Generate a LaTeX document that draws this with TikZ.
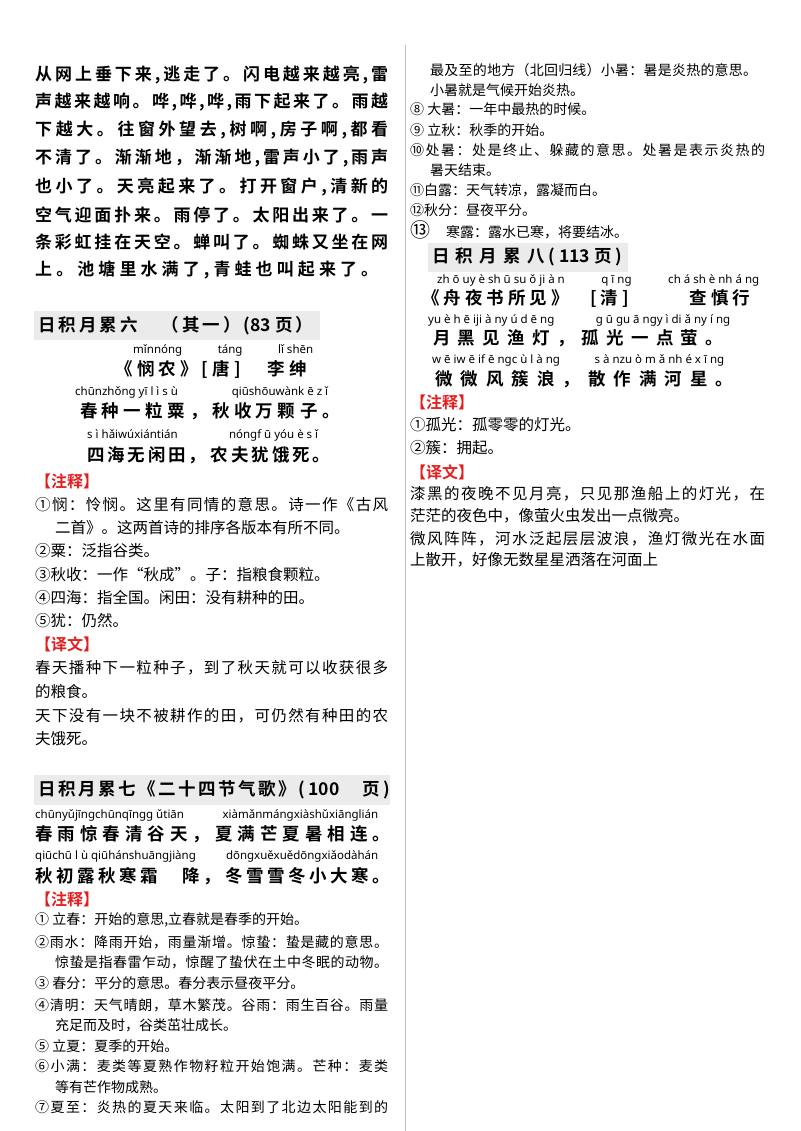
\documentclass[tikz,border=0pt]{standalone}
\usepackage{fontspec}
\setmainfont{Noto Sans CJK SC}[BoldFont={Noto Sans CJK SC Bold}]
\newfontfamily\py{Noto Sans}
\definecolor{redc}{RGB}{228,30,30}
\newcounter{ln}
\newcount\cc
\cc="4E00 \loop \XeTeXcharclass\cc=1 \advance\cc by 1 \ifnum\cc<"A000 \repeat
\cc="3000 \loop \XeTeXcharclass\cc=1 \advance\cc by 1 \ifnum\cc<"3040 \repeat
\cc="FF00 \loop \XeTeXcharclass\cc=1 \advance\cc by 1 \ifnum\cc<"FF60 \repeat
\cc="2460 \loop \XeTeXcharclass\cc=1 \advance\cc by 1 \ifnum\cc<"2480 \repeat
\XeTeXinterchartoks 1 1 = {\hskip0pt plus 1fil\relax}
\XeTeXinterchartoks 0 1 = {\hskip0pt plus 1fil\relax}
\XeTeXinterchartoks 1 0 = {\hskip0pt plus 1fil\relax}
\tikzset{
 body/.style={inner sep=0pt,font=\fontsize{15.5}{18}\selectfont},
 sbody/.style={inner sep=0pt,font=\fontsize{14}{16}\selectfont},
 para/.style={inner sep=0pt,font=\fontsize{17}{20}\selectfont\bfseries},
 poem/.style={inner sep=0pt,font=\fontsize{17.5}{20}\selectfont\bfseries},
 pin/.style={inner sep=0pt,font=\fontsize{11.5}{13}\py},
 head/.style={inner sep=0pt,font=\fontsize{17.5}{20}\selectfont\bfseries},
 lab/.style={inner sep=0pt,text=redc,font=\fontsize{16}{18}\selectfont\bfseries},
 hbox/.style={fill=black!8,draw=none}
}
\newcommand\ml[5]{\stepcounter{ln}\node[#1,anchor=west] (n\arabic{ln}) at (#2,#3) {\XeTeXinterchartokenstate=1 \makebox[#4pt][s]{#5}};}
\newcommand\mn[4]{\stepcounter{ln}\node[#1,anchor=west] (n\arabic{ln}) at (#2,#3) {#4};}
\begin{document}
\begin{tikzpicture}[x=1pt,y=-1pt]
\useasboundingbox (0,0) rectangle (800,1131);
\fill[white] (0,0) rectangle (800,1131);
\draw[black!25] (405,45) -- (405,1131);
% top paragraph
\ml{para}{35}{75}{353}{从网上垂下来,逃走了。闪电越来越亮,雷}
\ml{para}{35}{102}{353}{声越来越响。哗,哗,哗,雨下起来了。雨越}
\ml{para}{35}{130}{353}{下越大。往窗外望去,树啊,房子啊,都看}
\ml{para}{35}{158}{353}{不清了。渐渐地，渐渐地,雷声小了,雨声}
\ml{para}{35}{187}{353}{也小了。天亮起来了。打开窗户,清新的}
\ml{para}{35}{215}{353}{空气迎面扑来。雨停了。太阳出来了。一}
\ml{para}{35}{242}{353}{条彩虹挂在天空。蝉叫了。蜘蛛又坐在网}
\ml{para}{35}{270}{343}{上。池塘里水满了,青蛙也叫起来了。}
% section 6
\fill[hbox] (34,311) rectangle (320,340);
\ml{head}{38}{326}{275}{日积月累六　（其一）(83 页）}
\ml{pin}{133}{350}{180}{mǐnnóng \hfil táng \hfil lǐ shēn}
\ml{poem}{115}{369}{192}{《悯 农 》[唐]　李绅}
\ml{pin}{75}{392}{253}{chūnzhǒng yī l ì s ù \hfil qiūshōuwànk ē z ǐ}
\ml{poem}{80}{411}{260}{春 种 一粒粟，秋 收 万颗子。}
\ml{pin}{87}{435}{231}{s ì hǎiwúxiántián \hfil nóngf ū yóu è s ǐ}
\ml{poem}{87}{455}{243}{四海无闲田， 农 夫犹饿死。}
\mn{lab}{35}{481}{【注释】}
\ml{body}{35}{505}{353}{①悯：怜悯。这里有同情的意思。诗一作《古风}
\mn{body}{55}{528}{二首》。这两首诗的排序各版本有所不同。}
\mn{body}{35}{551}{②粟：泛指谷类。}
\mn{body}{35}{575}{③秋收：一作“秋成”。子：指粮食颗粒。}
\mn{body}{35}{598}{④四海：指全国。闲田：没有耕种的田。}
\mn{body}{35}{621}{⑤犹：仍然。}
\mn{lab}{35}{644}{【译文】}
\ml{body}{35}{668}{353}{春天播种下一粒种子，到了秋天就可以收获很多}
\mn{body}{35}{692}{的粮食。}
\ml{body}{35}{716}{353}{天下没有一块不被耕作的田，可仍然有种田的农}
\mn{body}{35}{739}{夫饿死。}
% section 7
\fill[hbox] (34,775) rectangle (390,805);
\ml{head}{38}{790}{352}{日积月累七《二十四节气歌》( 100　页 )}
\ml{pin}{35}{815}{343}{chūnyǔjīngchūnqīngg ǔtiān \hfil xiàmǎnmángxiàshǔxiānglián}
\ml{poem}{35}{834}{355}{春雨惊春清谷天，夏满芒夏暑相连。}
\ml{pin}{35}{856}{343}{qiūchū l ù qiūhánshuāngjiàng \hfil dōngxuěxuědōngxiǎodàhán}
\ml{poem}{35}{876}{355}{秋初露秋寒霜　降，冬雪雪冬小大寒。}
\mn{lab}{35}{899}{【注释】}
\mn{sbody}{35}{920}{① 立春：开始的意思,立春就是春季的开始。}
\ml{sbody}{35}{942}{353}{②雨水：降雨开始，雨量渐增。惊蛰：蛰是藏的意思。}
\ml{sbody}{55}{962}{333}{惊蛰是指春雷乍动，惊醒了蛰伏在土中冬眠的动物。}
\mn{sbody}{35}{983}{③ 春分：平分的意思。春分表示昼夜平分。}
\ml{sbody}{35}{1005}{353}{④清明：天气晴朗，草木繁茂。谷雨：雨生百谷。雨量}
\mn{sbody}{55}{1025}{充足而及时，谷类茁壮成长。}
\mn{sbody}{35}{1046}{⑤ 立夏：夏季的开始。}
\ml{sbody}{35}{1066}{353}{⑥小满：麦类等夏熟作物籽粒开始饱满。芒种：麦类}
\mn{sbody}{55}{1087}{等有芒作物成熟。}
\ml{sbody}{35}{1107}{353}{⑦夏至：炎热的夏天来临。太阳到了北边太阳能到的}
% right column
\ml{sbody}{430}{70}{327}{最及至的地方（北回归线）小暑：暑是炎热的意思。}
\mn{sbody}{430}{90}{小暑就是气候开始炎热。}
\mn{sbody}{410}{109}{⑧ 大暑：一年中最热的时候。}
\mn{sbody}{410}{130}{⑨ 立秋：秋季的开始。}
\ml{sbody}{410}{150}{355}{⑩处暑：处是终止、躲藏的意思。处暑是表示炎热的}
\mn{sbody}{430}{170}{暑天结束。}
\mn{sbody}{410}{190}{⑪白露：天气转凉，露凝而白。}
\mn{sbody}{410}{210}{⑫秋分：昼夜平分。}
\mn{sbody}{410}{230}{{\fontsize{20}{22}\selectfont ⑬}\hspace{16pt}寒露：露水已寒，将要结冰。}
\fill[hbox] (428,243) rectangle (628,272);
\ml{head}{432}{257}{190}{日积月累八 ( 113 页 )}
\ml{pin}{437}{280}{322}{zh ō uy è sh ū su ǒ ji à n \hfil q ī ng \hfil ch á sh è nh á ng}
\ml{poem}{422}{298}{328}{《 舟 夜 书 所 见 》[ 清 ]　查 慎 行}
\ml{pin}{428}{320}{302}{yu è h ē iji à ny ú d ē ng \hfil g ū gu ā ngy ì di ǎ ny í ng}
\ml{poem}{433}{338}{290}{月 黑 见 渔 灯 ， 孤 光 一 点 萤 。}
\ml{pin}{432}{360}{292}{w ē iw ē if ē ngc ù l à ng \hfil s à nzu ò m ǎ nh é x ī ng}
\ml{poem}{435}{379}{298}{微 微 风 簇 浪 ， 散 作 满 河 星 。}
\mn{lab}{410}{402}{【注释】}
\mn{body}{410}{425}{①孤光：孤零零的灯光。}
\mn{body}{410}{448}{②簇：拥起。}
\mn{lab}{410}{472}{【译文】}
\ml{body}{410}{494}{355}{漆黑的夜晚不见月亮，只见那渔船上的灯光，在}
\mn{body}{410}{516}{茫茫的夜色中，像萤火虫发出一点微亮。}
\ml{body}{410}{539}{355}{微风阵阵，河水泛起层层波浪，渔灯微光在水面}
\mn{body}{410}{560}{上散开，好像无数星星洒落在河面上}
\end{tikzpicture}
\end{document}
